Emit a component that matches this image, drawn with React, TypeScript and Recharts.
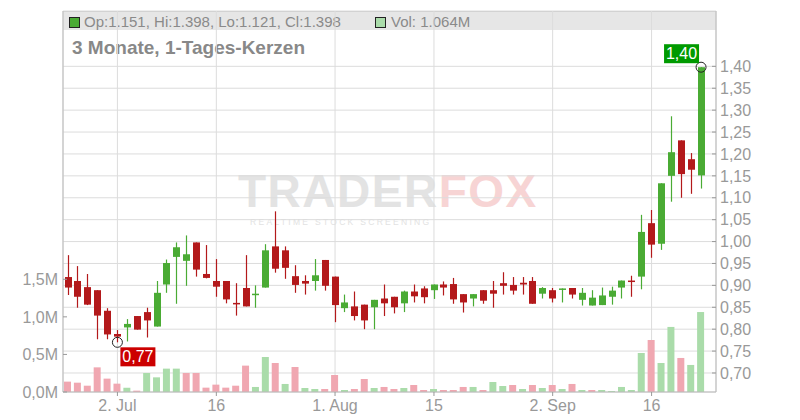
import React from "react";
import { ComposedChart, Bar, XAxis, YAxis, CartesianGrid, ReferenceDot, Cell } from "recharts";

// trading days, 25 Jun - 23 Sep 2024
const dates = [
  "2024-06-25", "2024-06-26", "2024-06-27", "2024-06-28",
  "2024-07-01", "2024-07-02", "2024-07-03", "2024-07-04", "2024-07-05",
  "2024-07-08", "2024-07-09", "2024-07-10", "2024-07-11", "2024-07-12",
  "2024-07-15", "2024-07-16", "2024-07-17", "2024-07-18", "2024-07-19",
  "2024-07-22", "2024-07-23", "2024-07-24", "2024-07-25", "2024-07-26",
  "2024-07-29", "2024-07-30", "2024-07-31",
  "2024-08-01", "2024-08-02",
  "2024-08-05", "2024-08-06", "2024-08-07", "2024-08-08", "2024-08-09",
  "2024-08-12", "2024-08-13", "2024-08-14", "2024-08-15", "2024-08-16",
  "2024-08-19", "2024-08-20", "2024-08-21", "2024-08-22", "2024-08-23",
  "2024-08-26", "2024-08-27", "2024-08-28", "2024-08-29", "2024-08-30",
  "2024-09-02", "2024-09-03", "2024-09-04", "2024-09-05", "2024-09-06",
  "2024-09-09", "2024-09-10", "2024-09-11", "2024-09-12", "2024-09-13",
  "2024-09-16", "2024-09-17", "2024-09-18", "2024-09-19", "2024-09-20",
  "2024-09-23",
];

const open = [
  0.919, 0.910, 0.896, 0.889, 0.842, 0.789, 0.804, 0.830, 0.839, 0.806,
  0.902, 0.965, 0.956, 0.998, 0.926, 0.910, 0.910, 0.860, 0.894, 0.880,
  0.895, 0.989, 0.980, 0.921, 0.910, 0.910, 0.958, 0.920, 0.848, 0.852,
  0.856, 0.850, 0.870, 0.874, 0.859, 0.886, 0.893, 0.889, 0.902, 0.903,
  0.880, 0.870, 0.889, 0.889, 0.905, 0.901, 0.906, 0.910, 0.881, 0.889,
  0.892, 0.894, 0.867, 0.854, 0.855, 0.874, 0.895, 0.911, 0.920, 1.042,
  0.995, 1.150, 1.231, 1.188, 1.151,
];
const high = [
  0.969, 0.944, 0.926, 0.889, 0.848, 0.798, 0.823, 0.830, 0.849, 0.910,
  0.959, 0.998, 1.014, 0.998, 0.992, 0.960, 0.910, 0.905, 0.969, 0.900,
  0.994, 1.069, 0.989, 0.946, 0.923, 0.960, 0.958, 0.920, 0.879, 0.886,
  0.856, 0.867, 0.902, 0.874, 0.888, 0.902, 0.898, 0.902, 0.909, 0.917,
  0.880, 0.880, 0.889, 0.910, 0.930, 0.919, 0.919, 0.919, 0.896, 0.894,
  0.893, 0.894, 0.894, 0.889, 0.895, 0.897, 0.911, 0.922, 1.061, 1.072,
  1.133, 1.286, 1.231, 1.202, 1.398,
];
const low = [
  0.878, 0.849, 0.855, 0.777, 0.777, 0.770, 0.772, 0.799, 0.781, 0.806,
  0.883, 0.858, 0.899, 0.920, 0.916, 0.874, 0.859, 0.831, 0.852, 0.849,
  0.895, 0.929, 0.915, 0.883, 0.879, 0.888, 0.888, 0.816, 0.839, 0.820,
  0.800, 0.800, 0.830, 0.836, 0.839, 0.861, 0.859, 0.869, 0.877, 0.858,
  0.838, 0.852, 0.858, 0.849, 0.879, 0.879, 0.879, 0.858, 0.870, 0.861,
  0.861, 0.870, 0.854, 0.854, 0.855, 0.856, 0.870, 0.874, 0.891, 0.963,
  0.981, 1.091, 1.100, 1.109, 1.121,
];
const close = [
  0.895, 0.874, 0.856, 0.831, 0.788, 0.783, 0.812, 0.799, 0.820, 0.883,
  0.951, 0.987, 0.971, 0.936, 0.917, 0.897, 0.868, 0.859, 0.852, 0.881,
  0.980, 0.938, 0.940, 0.901, 0.904, 0.923, 0.899, 0.855, 0.861, 0.830,
  0.820, 0.867, 0.859, 0.850, 0.886, 0.875, 0.873, 0.902, 0.895, 0.868,
  0.861, 0.880, 0.865, 0.881, 0.899, 0.888, 0.902, 0.858, 0.894, 0.870,
  0.893, 0.879, 0.883, 0.872, 0.877, 0.888, 0.911, 0.909, 1.022, 0.993,
  1.133, 1.204, 1.154, 1.164, 1.398,
];

// volume in millions; 1 = green (close above previous close)
const volume = [
  0.138, 0.124, 0.084, 0.328, 0.178, 0.111, 0.058, 0.018, 0.253, 0.195,
  0.311, 0.311, 0.253, 0.253, 0.058, 0.098, 0.058, 0.084, 0.351, 0.067,
  0.466, 0.386, 0.107, 0.333, 0.053, 0.040, 0.040, 0.226, 0.027, 0.040,
  0.173, 0.053, 0.067, 0.040, 0.053, 0.093, 0.027, 0.040, 0.027, 0.027,
  0.067, 0.067, 0.027, 0.133, 0.080, 0.093, 0.040, 0.093, 0.053, 0.093,
  0.040, 0.107, 0.027, 0.027, 0.027, 0.013, 0.067, 0.027, 0.519, 0.692,
  0.386, 0.866, 0.453, 0.360, 1.064,
];
const volumeUp = [
  0, 0, 0, 0, 0, 0, 1, 0, 1, 1,
  1, 1, 0, 0, 0, 0, 0, 0, 0, 1,
  1, 0, 1, 0, 1, 1, 0, 0, 1, 0,
  0, 1, 0, 0, 1, 0, 0, 1, 0, 0,
  0, 1, 0, 1, 1, 0, 1, 0, 1, 0,
  1, 0, 1, 0, 1, 1, 1, 1, 1, 0,
  1, 1, 0, 1, 1,
];

const dateTicks = ["2024-07-02", "2024-07-16", "2024-08-01", "2024-08-15", "2024-09-02", "2024-09-16"];
const dateTickLabels: Record<string, string> = {
  "2024-07-02": "2. Jul",
  "2024-07-16": "16",
  "2024-08-01": "1. Aug",
  "2024-08-15": "15",
  "2024-09-02": "2. Sep",
  "2024-09-16": "16",
};
const priceTicks = [0.7, 0.75, 0.8, 0.85, 0.9, 0.95, 1.0, 1.05, 1.1, 1.15, 1.2, 1.25, 1.3, 1.35, 1.4];
const volumeTicks = [0, 0.5, 1.0, 1.5];

const lowMark = { date: "2024-07-02", value: 0.77 };
const highMark = { date: "2024-09-23", value: 1.398 };

const UP = "#4aab34";
const DOWN = "#b3191b";
const VOL_UP = "#aadcaa";
const VOL_DOWN = "#f0a7b1";
const LABEL = "#999";

const data = dates.map((d, i) => ({
  date: d,
  range: [low[i], high[i]],
  open: open[i],
  high: high[i],
  low: low[i],
  close: close[i],
  volume: volume[i],
  volUp: volumeUp[i],
}));

const fmtPrice = (v: number) => v.toFixed(2).replace(".", ",");

function Candle(props: any) {
  const { x, y, width, height, payload } = props;
  if (!payload || height == null || isNaN(y)) return null;
  const h = Math.abs(height);
  const top = height >= 0 ? y : y + height;
  const span = payload.high - payload.low;
  const k = span > 0 ? h / span : 0;
  const yO = top + (payload.high - payload.open) * k;
  const yC = top + (payload.high - payload.close) * k;
  const color = payload.close >= payload.open ? UP : DOWN;
  const cx = Math.round(x + width / 2) + 0.5;
  return (
    <g>
      <line x1={cx} x2={cx} y1={top} y2={top + h} stroke={color} strokeWidth={1.2} />
      <rect x={cx - 3.5} y={Math.min(yO, yC)} width={7} height={Math.max(Math.abs(yO - yC), 1.5)} fill={color} />
    </g>
  );
}

function LowMarker(props: any) {
  const { cx, cy } = props;
  return (
    <g>
      <circle cx={cx} cy={cy} r={5} fill="none" stroke="#222" strokeWidth={1} />
      <rect x={cx + 3} y={cy + 5} width={35} height={19} fill="#cc0000" />
      <text x={cx + 20.5} y={cy + 20} textAnchor="middle" fill="#fff" fontSize={16}>
        {fmtPrice(lowMark.value)}
      </text>
    </g>
  );
}

function HighMarker(props: any) {
  const { cx, cy } = props;
  return (
    <g>
      <circle cx={cx} cy={cy} r={5} fill="none" stroke="#222" strokeWidth={1} />
      <rect x={cx - 37} y={cy - 23} width={35} height={19} fill="#009a00" />
      <text x={cx - 19.5} y={cy - 8} textAnchor="middle" fill="#fff" fontSize={16}>
        {fmtPrice(highMark.value)}
      </text>
    </g>
  );
}

export default function App() {
  const last = data[data.length - 1];
  return (
    <div style={{ position: "absolute", left: 0, top: 0, width: 800, height: 420, background: "#fff", fontFamily: '"Liberation Sans", Arial, sans-serif' }}>
      <svg width={800} height={420} style={{ position: "absolute", left: 0, top: 0 }}>
        <rect x={63} y={11} width={653} height={19} fill="#e6e6e6" />
        <line x1={63} x2={716} y1={11.5} y2={11.5} stroke="#c8c8c8" />
        <rect x={69.5} y={17.5} width={10} height={10} fill={UP} stroke="#222" />
        <text x={84} y={27} fontSize={15} fill="#8a8a8a">
          {`Op:${last.open.toFixed(3)}, Hi:${last.high.toFixed(3)}, Lo:${last.low.toFixed(3)}, Cl:${last.close.toFixed(3)}`}
        </text>
        <rect x={375.5} y={17.5} width={10} height={10} fill={VOL_UP} stroke="#222" />
        <text x={391} y={27} fontSize={15} fill="#8a8a8a">{`Vol: ${last.volume.toFixed(3)}M`}</text>
        <text x={72} y={54} fontSize={19} fontWeight="bold" fill="#888">3 Monate, 1-Tages-Kerzen</text>
        <text x={238} y={207} fontSize={46} fontWeight="bold" letterSpacing={1.5} fill="#e3e3e3">
          TRADER<tspan fill="#f7d4d4">FOX</tspan>
        </text>
        <text x={250} y={224.5} fontSize={8.5} letterSpacing={2.3} fill="#e2e2e2">REALTIME STOCK SCREENING</text>
      </svg>
      <div style={{ position: "absolute", left: 0, top: 0 }}>
        <ComposedChart width={800} height={420} data={data} margin={{ top: 11, right: 0, bottom: 0, left: 0 }}>
          <CartesianGrid xAxisId="c" yAxisId="price" stroke="#dcdcdc" />
          <XAxis
            xAxisId="c"
            dataKey="date"
            ticks={dateTicks}
            interval={0}
            tickFormatter={(v: string) => dateTickLabels[v] || ""}
            padding={{ left: 0, right: 10 }}
            height={28}
            tickSize={4}
            tickMargin={4}
            axisLine={{ stroke: "#bbb" }}
            tickLine={{ stroke: "#999" }}
            tick={{ fill: LABEL, fontSize: 16 }}
          />
          <XAxis xAxisId="v" dataKey="date" hide padding={{ left: 0, right: 10 }} />
          <YAxis
            yAxisId="vol"
            orientation="left"
            width={63}
            domain={[0, 5.07]}
            ticks={volumeTicks}
            interval={0}
            tickFormatter={(v: number) => v.toFixed(1).replace(".", ",") + "M"}
            tickSize={-4}
            tickMargin={9}
            axisLine={{ stroke: "#bbb" }}
            tickLine={{ stroke: "#999" }}
            tick={{ fill: LABEL, fontSize: 16 }}
          />
          <YAxis
            yAxisId="price"
            orientation="right"
            width={84}
            domain={[0.6566, 1.5263]}
            ticks={priceTicks}
            interval={0}
            tickFormatter={fmtPrice}
            tickSize={-4}
            tickMargin={8}
            axisLine={{ stroke: "#bbb" }}
            tickLine={{ stroke: "#999" }}
            tick={{ fill: LABEL, fontSize: 16 }}
          />
          <Bar xAxisId="v" yAxisId="vol" dataKey="volume" barSize={7} isAnimationActive={false}>
            {data.map((d, i) => (
              <Cell key={i} fill={d.volUp ? VOL_UP : VOL_DOWN} />
            ))}
          </Bar>
          <Bar xAxisId="c" yAxisId="price" dataKey="range" barSize={7} shape={Candle} isAnimationActive={false} />
          <ReferenceDot xAxisId="c" yAxisId="price" x={lowMark.date} y={lowMark.value} r={5} shape={LowMarker} ifOverflow="visible" />
          <ReferenceDot xAxisId="c" yAxisId="price" x={highMark.date} y={highMark.value} r={5} shape={HighMarker} ifOverflow="visible" />
        </ComposedChart>
      </div>
    </div>
  );
}
